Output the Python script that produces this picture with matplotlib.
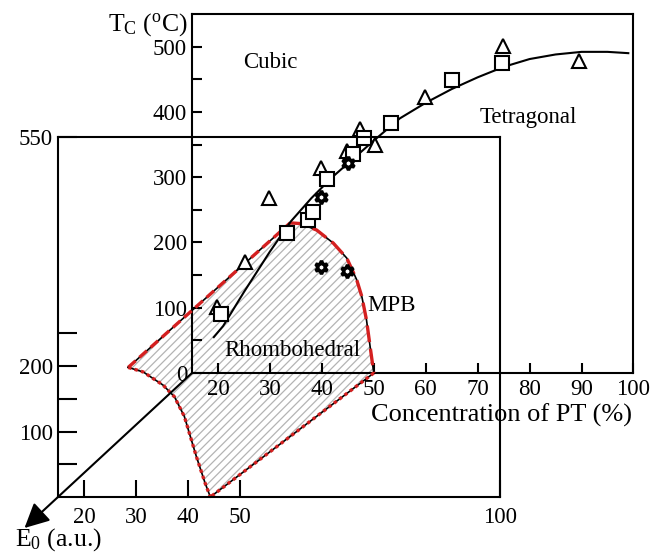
import matplotlib
matplotlib.use('Agg')
import matplotlib.pyplot as plt
from matplotlib.patches import Polygon
import numpy as np

plt.rcParams['font.family'] = ['Liberation Serif', 'DejaVu Serif']
plt.rcParams['mathtext.fontset'] = 'custom'
plt.rcParams['mathtext.rm'] = 'Liberation Serif'
plt.rcParams['mathtext.it'] = 'Liberation Serif:italic'
plt.rcParams['hatch.linewidth'] = 0.9

# Curie temperature data (back plane, E0 = 0)
tri_x = [19.9, 25.2, 29.9, 39.8, 44.9, 47.3, 50.2, 59.9, 74.8, 89.6]
tri_t = [101, 170, 268, 314, 340, 374, 350, 423, 501, 478]
sq_x = [20.6, 33.2, 37.4, 38.3, 41.0, 46.0, 48.1, 53.3, 65.0, 74.7]
sq_t = [91, 214, 235, 247, 297, 336, 360, 383, 449, 475]
star_x = [39.8, 45.1, 39.9, 44.8]
star_t = [269, 322, 163, 157]

# Tc line through the points
fit_x = [19.2, 21, 25, 30, 34, 38, 42, 46, 50, 55, 60, 65, 70, 75, 80, 85, 90, 95, 99]
fit_t = [55, 72, 124, 186, 232, 268, 300, 328, 356, 390, 414, 435, 453, 469, 481, 488, 492, 492, 490]

# MPB boundary of the rhombohedral region on the back plane
mpb_x = [33.9, 35.8, 39.0, 42.2, 44.8, 46.7, 47.7, 48.6, 49.3, 50.0]
mpb_t = [230, 229, 219, 199, 176, 143, 117, 81, 40, 0]

# boundary of the region on the front plane (E0 > 0)
front_x = [28.5, 31.4, 35.2, 37.4, 39.3, 41.6, 43.3, 44.3]
front_t = [198, 191, 171, 153, 123, 62, 21, 0]

back_xticks = [20, 30, 40, 50, 60, 70, 80, 90, 100]
back_yticks = [0, 100, 200, 300, 400, 500]
front_xticks = [20, 30, 40, 50, 100]
front_yticks = [100, 200, 550]

red = '#d42020'
fs = 16.5

fig = plt.figure(figsize=(6.68, 5.55), dpi=100)
ax_b = fig.add_axes([192 / 668, 1 - 373 / 555, 441.5 / 668, 359 / 555])
ax_f = fig.add_axes([58 / 668, 1 - 497 / 555, 442 / 668, 360 / 555])

for ax in (ax_b, ax_f):
    ax.set_facecolor('none')
    ax.set_xlim(15, 100)
    ax.set_ylim(0, 550)
    for sp in ax.spines.values():
        sp.set_linewidth(1.5)

# back axes
ax_b.set_xticks(back_xticks)
ax_b.set_xticklabels([str(v) for v in back_xticks], fontsize=fs)
ax_b.set_yticks(back_yticks)
ax_b.set_yticklabels([str(v) for v in back_yticks], fontsize=fs)
ax_b.set_yticks(np.arange(50, 500, 100), minor=True)
ax_b.tick_params(which='both', direction='in', length=7, width=1.5)
ax_b.tick_params(axis='x', pad=4)
ax_b.tick_params(axis='y', pad=3.5)

# front axes
ax_f.set_xticks(front_xticks)
ax_f.set_xticklabels([str(v) for v in front_xticks], fontsize=fs)
ax_f.set_yticks(front_yticks)
ax_f.set_yticklabels([str(v) for v in front_yticks], fontsize=fs)
ax_f.set_yticks([50, 150, 250], minor=True)
ax_f.tick_params(axis='x', which='both', direction='in', length=12, width=1.5, pad=7)
ax_f.tick_params(axis='y', which='both', direction='in', length=13.5, width=1.5, pad=3.5)

# map front-plane points into back data coords
f2b = ax_f.transData + ax_b.transData.inverted()
fr = f2b.transform(np.column_stack([front_x, front_t]))
mpb = np.column_stack([mpb_x, mpb_t])

# hatched rhombohedral volume
verts = np.vstack([mpb, fr[::-1]])
ax_b.add_patch(Polygon(verts, closed=True, facecolor='none', edgecolor='#b4b4b4',
                       linewidth=0, hatch='////', clip_on=False, zorder=1))

# edges of the region
top_edge = np.array([fr[0], mpb[0]])
bot_edge = np.array([mpb[-1], fr[-1]])
for seg, ls in [(top_edge, (0, (3, 1.5))), (bot_edge, (0, (1, 1))), (fr, (0, (1, 1)))]:
    ax_b.plot(seg[:, 0], seg[:, 1], color='k', lw=1.2, clip_on=False, zorder=3)
    ax_b.plot(seg[:, 0], seg[:, 1], color=red, lw=2.4, ls=ls, clip_on=False, zorder=3)
ax_b.plot(mpb[:, 0], mpb[:, 1], color='k', lw=1.2, zorder=3)
ax_b.plot(mpb[:, 0], mpb[:, 1], color=red, lw=2.4, ls=(0, (5, 2)), zorder=3)

# E0 axis
b0 = np.array([15.0, 0.0])
f0 = f2b.transform([[15.0, 0.0]])[0]
tip = b0 + 1.25 * (f0 - b0)
ax_b.annotate('', xy=tip, xytext=b0, annotation_clip=False,
              arrowprops=dict(arrowstyle='-|>,head_length=0.6,head_width=0.3',
                              mutation_scale=25, lw=1.5, color='k',
                              shrinkA=0, shrinkB=0))

# Tc line and data
ax_b.plot(fit_x, fit_t, color='k', lw=1.5, zorder=4)
mk = dict(ls='none', mfc='white', mec='k', mew=1.5, ms=9.5, zorder=5)
ax_b.plot(tri_x, tri_t, marker='^', **mk)
ax_b.plot(sq_x, sq_t, marker='s', **mk)
ax_b.plot(star_x, star_t, marker=(6, 1, 0), ls='none', mfc='white', mec='k',
          mew=2.5, ms=9.5, zorder=5)

# phase labels
ax_b.text(30.0, 476, 'Cubic', fontsize=fs, ha='center', va='center')
ax_b.text(79.7, 391, 'Tetragonal', fontsize=fs, ha='center', va='center')
ax_b.text(48.7, 104, 'MPB', fontsize=fs, ha='left', va='center')
ax_b.text(34.3, 35, 'Rhombohedral', fontsize=fs, ha='center', va='center', zorder=6)

# axis titles
ax_b.text(-0.01, 0.97, r'T$_\mathrm{C}$ ($^\mathrm{o}$C)', fontsize=18.5,
          ha='right', va='center', transform=ax_b.transAxes)
ax_b.text(0.997, -0.117, 'Concentration of PT (%)', fontsize=19,
          ha='right', va='center', transform=ax_b.transAxes)
fig.text(15 / 668, 1 - 540 / 555, r'E$_0$ (a.u.)', fontsize=18.5, ha='left', va='center')

fig.savefig('out.png', dpi=100)
